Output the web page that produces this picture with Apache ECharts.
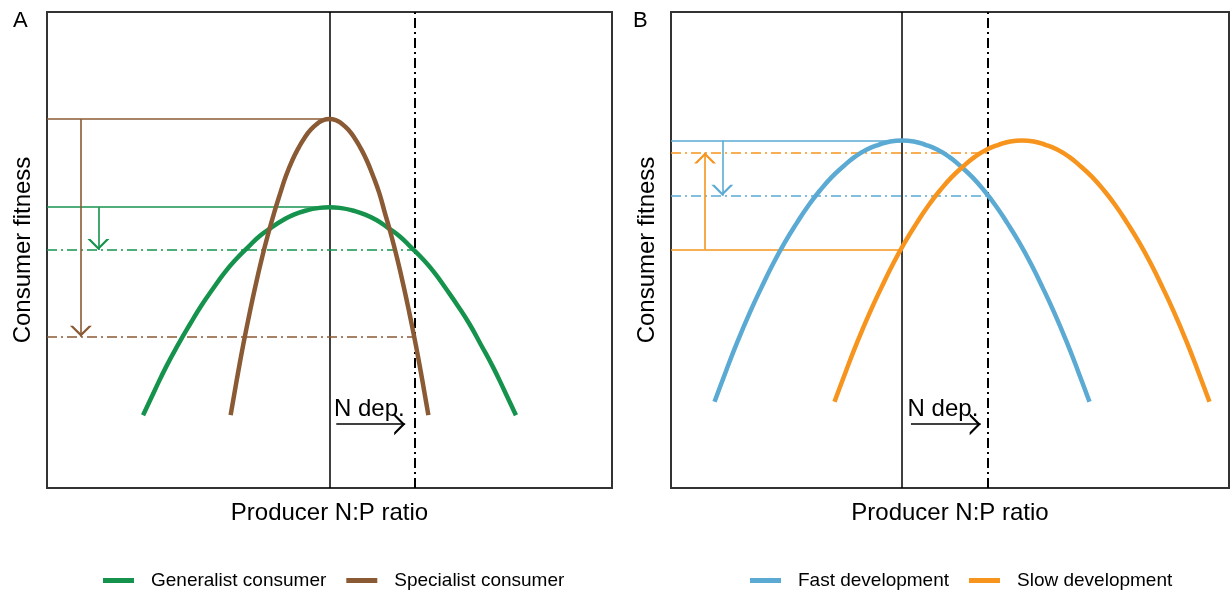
<!DOCTYPE html>
<html>
<head>
<meta charset="utf-8">
<script src="https://cdn.jsdelivr.net/npm/echarts@6/dist/echarts.min.js"></script>
<style>
  html, body {margin: 0; padding: 0; background: #fff;}
  #chart {width: 1231px; height: 592px;}
</style>
</head>
<body>
<div id="chart"></div>
<script>
// both panels use 0-100 units on each axis (conceptual figure, no ticks)

// Panel A - consumer specialisation
const refXA = [50, 65];                 // ambient / N-deposited producer N:P
const generalistX = [17, 19.1, 21.1, 23.2, 25.3, 27.3, 29.4, 31.4, 33.5, 35.6, 37.6, 39.7, 41.8, 43.8, 45.9, 47.9, 50,
    52.1, 54.1, 56.2, 58.3, 60.3, 62.4, 64.4, 66.5, 68.6, 70.6, 72.7, 74.8, 76.8, 78.9, 80.9, 83];
const generalistY = [15.3, 20.6, 25.5, 30.1, 34.4, 38.3, 41.9, 45.2, 48.1, 50.6, 52.9, 54.7, 56.3, 57.5, 58.3, 58.8, 59,
    58.8, 58.3, 57.5, 56.3, 54.7, 52.9, 50.6, 48.1, 45.2, 41.9, 38.3, 34.4, 30.1, 25.5, 20.6, 15.3];
const specialistX = [32.5, 33.6, 34.7, 35.8, 36.9, 38.0, 39.1, 40.2, 41.3, 42.3, 43.4, 44.5, 45.6, 46.7, 47.8, 48.9, 50,
    51.1, 52.2, 53.3, 54.4, 55.5, 56.6, 57.7, 58.8, 59.8, 60.9, 62.0, 63.1, 64.2, 65.3, 66.4, 67.5];
const specialistY = [15.3, 22.8, 29.9, 36.4, 42.5, 48.1, 53.2, 57.8, 62.0, 65.6, 68.8, 71.4, 73.6, 75.3, 76.5, 77.3, 77.5,
    77.3, 76.5, 75.3, 73.6, 71.4, 68.8, 65.6, 62.0, 57.8, 53.2, 48.1, 42.5, 36.4, 29.9, 22.8, 15.3];
const generalistLevels = [59, 50];      // fitness at ambient, at deposited
const specialistLevels = [77.5, 31.8];
const arrowXA = [9.1, 6.0];             // generalist, specialist
const nDepA = [51.2, 63.4, 13.4];       // arrow start x, end x, y
const nDepTextA = [50.8, 13.9];

// Panel B - developmental rate
const refXB = [41.3, 56.7];
const fastX = [7.8, 9.9, 12.0, 14.1, 16.2, 18.3, 20.4, 22.5, 24.6, 26.7, 28.8, 30.9, 33.0, 35.1, 37.2, 39.3, 41.4,
    43.5, 45.6, 47.7, 49.8, 51.9, 54.0, 56.1, 58.2, 60.3, 62.4, 64.5, 66.6, 68.7, 70.8, 72.9, 75.0];
const fastY = [18.1, 24.7, 31.0, 36.8, 42.1, 47.1, 51.6, 55.6, 59.3, 62.5, 65.3, 67.6, 69.6, 71.1, 72.1, 72.8, 73,
    72.8, 72.1, 71.1, 69.6, 67.6, 65.3, 62.5, 59.3, 55.6, 51.6, 47.1, 42.1, 36.8, 31.0, 24.7, 18.1];
const slowX = [29.3, 31.4, 33.5, 35.6, 37.7, 39.8, 41.9, 44.0, 46.1, 48.2, 50.3, 52.4, 54.5, 56.6, 58.7, 60.8, 62.9,
    65.0, 67.1, 69.2, 71.3, 73.4, 75.5, 77.6, 79.7, 81.8, 83.9, 86.0, 88.1, 90.2, 92.3, 94.4, 96.5];
const slowY = [18.1, 24.7, 31.0, 36.8, 42.1, 47.1, 51.6, 55.6, 59.3, 62.5, 65.3, 67.6, 69.6, 71.1, 72.1, 72.8, 73,
    72.8, 72.1, 71.1, 69.6, 67.6, 65.3, 62.5, 59.3, 55.6, 51.6, 47.1, 42.1, 36.8, 31.0, 24.7, 18.1];
const fastLevels = [73, 61.4];
const slowLevels = [50.1, 70.5];
const arrowXB = [9.2, 6.1];             // fast, slow
const nDepB = [43.0, 55.5, 13.4];
const nDepTextB = [42.4, 13.9];

const GREEN = '#15934c', BROWN = '#8a5a34', BLUE = '#5aaad3', ORANGE = '#f7941d';
const FONT = 'Liberation Sans, Arial, sans-serif';
const DASHDOT = [10, 4, 2, 4];
// open arrow head, tip sits at the centre of the symbol box
const HEAD = 'path://M5,10L10,20L8.6,20L5,12.8L1.4,20L0,20ZM5,0L5,0';

function pairs(xs, ys) {
    return xs.map((x, i) => [x, ys[i]]);
}

function curve(gi, name, xs, ys, color) {
    return {
        type: 'line', name: name, xAxisIndex: gi, yAxisIndex: gi,
        data: pairs(xs, ys), smooth: true, symbol: 'none', silent: true,
        lineStyle: {color: color, width: 4.5}, itemStyle: {color: color}, z: 5
    };
}

function seg(gi, from, to, color, width, type, arrow) {
    return {
        type: 'lines', coordinateSystem: 'cartesian2d', xAxisIndex: gi, yAxisIndex: gi,
        silent: true, z: arrow ? 4 : 3,
        symbol: arrow ? ['none', HEAD] : 'none', symbolSize: [12, 22],
        lineStyle: {color: color, width: width, type: type || 'solid', opacity: 1},
        data: [{coords: [from, to]}]
    };
}

function label(gi, pos) {
    return {
        type: 'custom', xAxisIndex: gi, yAxisIndex: gi, silent: true, z: 6,
        data: [pos],
        renderItem: (params, api) => {
            let p = api.coord([api.value(0), api.value(1)]);
            return {
                type: 'text', x: p[0], y: p[1],
                style: {text: 'N dep.', fill: '#000', fontSize: 24, fontFamily: FONT, align: 'left', verticalAlign: 'bottom'}
            };
        }
    };
}

let series = [
    // panel A
    seg(0, [refXA[0], 0], [refXA[0], 100], '#000', 1.5),
    seg(0, [refXA[1], 0], [refXA[1], 100], '#000', 2, DASHDOT),
    seg(0, [0, specialistLevels[0]], [refXA[0], specialistLevels[0]], BROWN, 1.6),
    seg(0, [0, specialistLevels[1]], [refXA[1], specialistLevels[1]], BROWN, 1.6, DASHDOT),
    seg(0, [0, generalistLevels[0]], [refXA[0], generalistLevels[0]], GREEN, 1.6),
    seg(0, [0, generalistLevels[1]], [refXA[1], generalistLevels[1]], GREEN, 1.6, DASHDOT),
    seg(0, [arrowXA[1], specialistLevels[0]], [arrowXA[1], specialistLevels[1]], BROWN, 1.6, 'solid', true),
    seg(0, [arrowXA[0], generalistLevels[0]], [arrowXA[0], generalistLevels[1]], GREEN, 1.6, 'solid', true),
    seg(0, [nDepA[0], nDepA[2]], [nDepA[1], nDepA[2]], '#000', 1.6, 'solid', true),
    label(0, nDepTextA),
    curve(0, 'Generalist consumer', generalistX, generalistY, GREEN),
    curve(0, 'Specialist consumer', specialistX, specialistY, BROWN),
    // panel B
    seg(1, [refXB[0], 0], [refXB[0], 100], '#000', 1.5),
    seg(1, [refXB[1], 0], [refXB[1], 100], '#000', 2, DASHDOT),
    seg(1, [0, fastLevels[0]], [refXB[0], fastLevels[0]], BLUE, 1.6),
    seg(1, [0, fastLevels[1]], [refXB[1], fastLevels[1]], BLUE, 1.6, DASHDOT),
    seg(1, [0, slowLevels[0]], [refXB[0], slowLevels[0]], ORANGE, 1.6),
    seg(1, [0, slowLevels[1]], [refXB[1], slowLevels[1]], ORANGE, 1.6, DASHDOT),
    seg(1, [arrowXB[0], fastLevels[0]], [arrowXB[0], fastLevels[1]], BLUE, 1.6, 'solid', true),
    seg(1, [arrowXB[1], slowLevels[0]], [arrowXB[1], slowLevels[1]], ORANGE, 1.6, 'solid', true),
    seg(1, [nDepB[0], nDepB[2]], [nDepB[1], nDepB[2]], '#000', 1.6, 'solid', true),
    label(1, nDepTextB),
    curve(1, 'Fast development', fastX, fastY, BLUE),
    curve(1, 'Slow development', slowX, slowY, ORANGE)
];

function xAx(gi) {
    return {
        type: 'value', gridIndex: gi, min: 0, max: 100,
        axisLine: {show: false}, axisTick: {show: false}, axisLabel: {show: false}, splitLine: {show: false},
        name: 'Producer N:P ratio', nameLocation: 'middle', nameGap: 13,
        nameTextStyle: {fontSize: 24, fontFamily: FONT, color: '#000'}
    };
}

function yAx(gi) {
    return {
        type: 'value', gridIndex: gi, min: 0, max: 100,
        axisLine: {show: false}, axisTick: {show: false}, axisLabel: {show: false}, splitLine: {show: false},
        name: 'Consumer fitness', nameLocation: 'middle', nameGap: 12, nameRotate: 90,
        nameTextStyle: {fontSize: 24, fontFamily: FONT, color: '#000'}
    };
}

function legend(names, left) {
    return {
        data: names, left: left, top: 571, padding: 0, itemGap: 20,
        icon: 'rect', itemWidth: 31, itemHeight: 5, selectedMode: false,
        textStyle: {fontSize: 19, fontFamily: FONT, color: '#000', padding: [0, 0, 0, 12]}
    };
}

let chart = echarts.init(document.getElementById('chart'), null, {renderer: 'canvas'});
chart.setOption({
    animation: false,
    backgroundColor: '#fff',
    grid: [
        {left: 47, top: 12, width: 565, height: 476, show: true, borderColor: '#333', borderWidth: 2},
        {left: 671, top: 12, width: 558, height: 476, show: true, borderColor: '#333', borderWidth: 2}
    ],
    xAxis: [xAx(0), xAx(1)],
    yAxis: [yAx(0), yAx(1)],
    legend: [
        legend(['Generalist consumer', 'Specialist consumer'], 103),
        legend(['Fast development', 'Slow development'], 750)
    ],
    graphic: [
        {type: 'text', left: 13, top: 10, style: {text: 'A', fontSize: 22, fontFamily: FONT, fill: '#000'}},
        {type: 'text', left: 633, top: 10, style: {text: 'B', fontSize: 22, fontFamily: FONT, fill: '#000'}}
    ],
    series: series
});
</script>
</body>
</html>
